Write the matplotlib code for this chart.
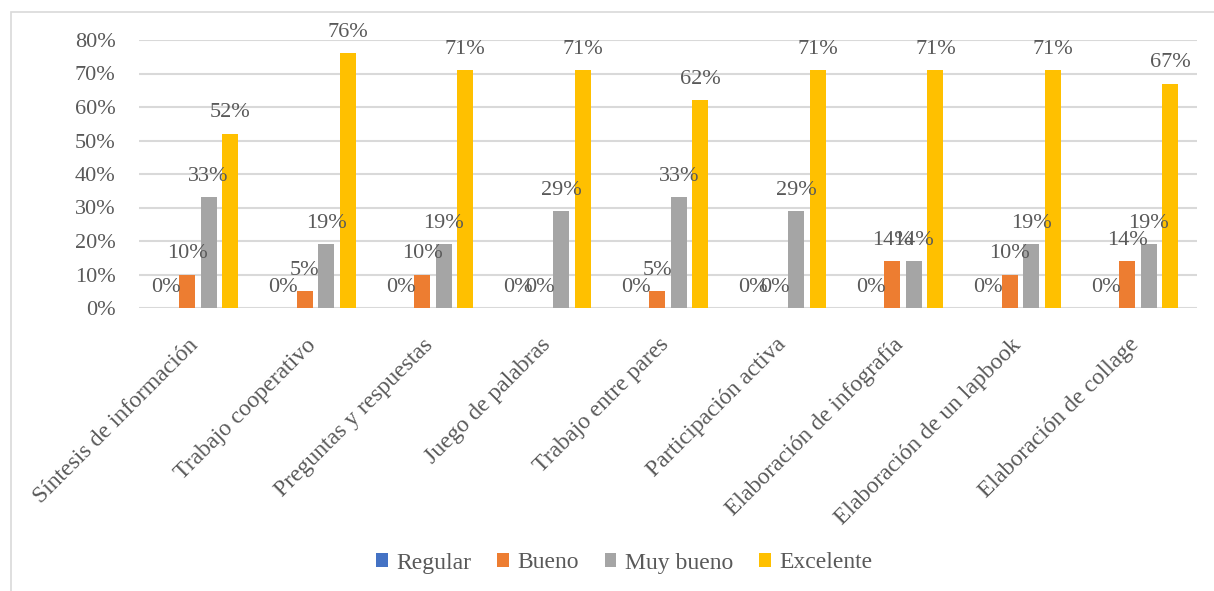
import matplotlib
matplotlib.use("Agg")
import matplotlib.pyplot as plt
from matplotlib.patches import Patch, Rectangle
from matplotlib.transforms import ScaledTranslation
import numpy as np

categories = [
    "Síntesis de información",
    "Trabajo cooperativo",
    "Preguntas y respuestas",
    "Juego de palabras",
    "Trabajo entre pares",
    "Participación activa",
    "Elaboración de infografía",
    "Elaboración de un lapbook",
    "Elaboración de collage",
]
series_names = ["Regular", "Bueno", "Muy bueno", "Excelente"]
regular = [0, 0, 0, 0, 0, 0, 0, 0, 0]
bueno = [10, 5, 10, 0, 5, 0, 14, 10, 14]
muy_bueno = [33, 19, 19, 29, 33, 29, 14, 19, 19]
excelente = [52, 76, 71, 71, 62, 71, 71, 71, 67]
y_ticks = [0, 10, 20, 30, 40, 50, 60, 70, 80]

colors = ["#4472C4", "#ED7D31", "#A5A5A5", "#FFC000"]
text_color = "#595959"
grid_color = "#D9D9D9"

plt.rcParams["font.family"] = ["Liberation Serif", "DejaVu Serif"]

fig = plt.figure(figsize=(12.14, 5.91), dpi=100)
ax = fig.add_axes([139 / 1214, 1 - 308 / 591, 1058 / 1214, 268 / 591])

# chart frame
fig.patches.append(Rectangle((11 / 1214, -0.05), 1.2, 1 - 12 / 591 + 0.05,
                             transform=fig.transFigure, fill=False,
                             edgecolor="#D9D9D9", linewidth=1.2, zorder=0))

x = np.arange(len(categories))
width = 0.136
step = 0.183
all_series = [regular, bueno, muy_bueno, excelente]
for i, (vals, col) in enumerate(zip(all_series, colors)):
    offs = (i - 1.5) * step
    ax.bar(x + offs, [v / 100 for v in vals], width=width, color=col, zorder=3)
    for xi, v in zip(x, vals):
        ax.annotate(f"{v}%", (xi + offs, v / 100), xytext=(0, 15),
                    textcoords="offset points", ha="center", va="center",
                    fontsize=16, color=text_color, zorder=4)

ax.set_xlim(-0.5, len(categories) - 0.5)
ax.set_ylim(0, 0.8)
ax.set_yticks([t / 100 for t in y_ticks])
ax.set_yticklabels([f"{t}%" for t in y_ticks], fontsize=16, color=text_color)
ax.yaxis.grid(True, color=grid_color, linewidth=1.5, zorder=0)
ax.set_axisbelow(True)
ax.tick_params(axis="both", length=0)
ax.tick_params(axis="y", pad=17)
for s in ax.spines.values():
    s.set_visible(False)

ax.set_xticks(x)
ax.set_xticklabels(categories, rotation=45, ha="right", va="top",
                   rotation_mode="anchor", fontsize=17, color=text_color)
ax.tick_params(axis="x", pad=19)
shift = ScaledTranslation(-10 / 100, 0, fig.dpi_scale_trans)
for lbl in ax.get_xticklabels():
    lbl.set_transform(lbl.get_transform() + shift)

handles = [Patch(facecolor=c, edgecolor="none") for c in colors]
fig.legend(handles, series_names, loc="center", bbox_to_anchor=(624 / 1214, 1 - 563 / 591),
           ncol=4, frameon=False, fontsize=17, labelcolor=text_color,
           handlelength=0.5, handleheight=0.5, handletextpad=0.35, columnspacing=1.1)

fig.savefig("out.png", dpi=100)
